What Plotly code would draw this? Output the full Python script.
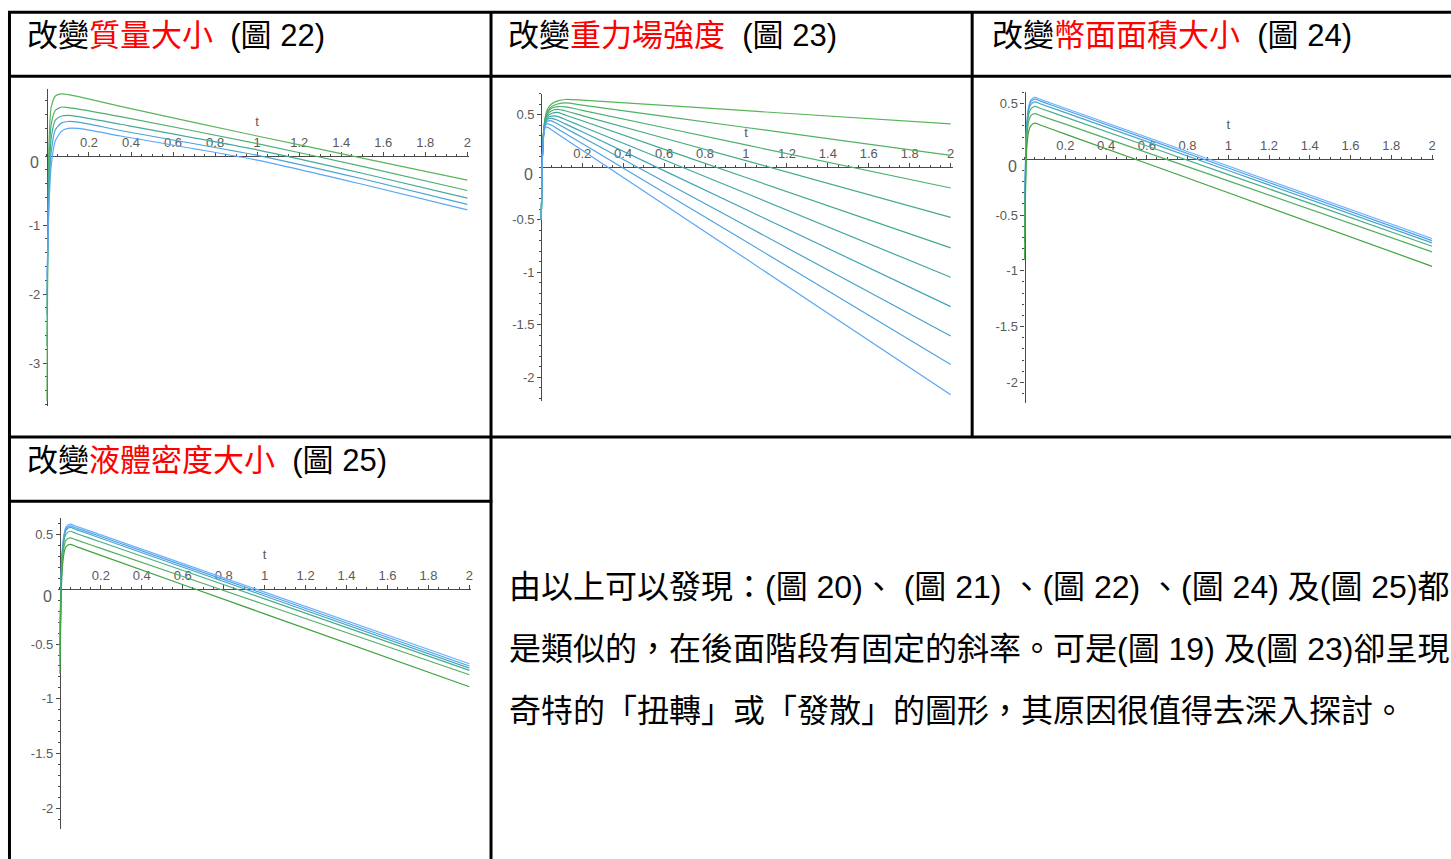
import plotly.graph_objects as go

W, H = 1451, 859

# ---- panel 22: changing the mass -------------------------------------------
T22 = [0, 0.005, 0.01, 0.02, 0.04, 0.07, 0.1, 0.15, 0.35, 1.0, 1.5, 2.0]
V22 = [
    [-3.55, -0.8, 0.2, 0.7, 0.87, 0.90, 0.89, 0.86, 0.72, 0.29, -0.03, -0.35],
    [-2.75, -1.0, -0.1, 0.45, 0.66, 0.71, 0.70, 0.68, 0.57, 0.18, -0.15, -0.50],
    [-2.3, -1.1, -0.35, 0.25, 0.52, 0.58, 0.59, 0.57, 0.46, 0.09, -0.25, -0.61],
    [-2.0, -1.2, -0.55, 0.05, 0.38, 0.48, 0.50, 0.49, 0.37, 0.01, -0.33, -0.70],
    [-1.75, -1.25, -0.7, -0.15, 0.22, 0.36, 0.40, 0.40, 0.29, -0.06, -0.41, -0.78],
]
C22 = ["#5ab55a", "#4cb070", "#45ab98", "#4aa3d6", "#5aa6f5"]

# ---- panel 23: changing the gravity field ----------------------------------
T23 = [0, 0.005, 0.01, 0.02, 0.03, 0.05, 0.08, 0.12, 0.2, 1.0, 2.0]
V23 = [
    [-0.5, 0.05, 0.30, 0.48, 0.55, 0.60, 0.63, 0.643, 0.637, 0.536, 0.41],
    [-0.5, 0.05, 0.30, 0.47, 0.53, 0.575, 0.60, 0.61, 0.59, 0.376, 0.11],
    [-0.5, 0.05, 0.30, 0.46, 0.52, 0.56, 0.575, 0.572, 0.54, 0.21, -0.20],
    [-0.5, 0.05, 0.29, 0.45, 0.50, 0.535, 0.548, 0.533, 0.49, 0.06, -0.48],
    [-0.5, 0.05, 0.29, 0.44, 0.485, 0.51, 0.52, 0.493, 0.44, -0.10, -0.77],
    [-0.5, 0.05, 0.28, 0.43, 0.47, 0.485, 0.482, 0.45, 0.386, -0.25, -1.05],
    [-0.5, 0.05, 0.28, 0.42, 0.455, 0.463, 0.445, 0.408, 0.335, -0.405, -1.33],
    [-0.5, 0.05, 0.27, 0.41, 0.435, 0.44, 0.41, 0.367, 0.283, -0.56, -1.61],
    [-0.5, 0.05, 0.27, 0.40, 0.41, 0.398, 0.363, 0.317, 0.223, -0.71, -1.88],
    [-0.5, 0.05, 0.26, 0.375, 0.38, 0.354, 0.315, 0.263, 0.16, -0.875, -2.17],
]
C23 = ["#5ab55a", "#52b262", "#4bb06e", "#45ad7e", "#40aa90",
       "#3fa7a4", "#42a4b9", "#48a3cc", "#50a4e0", "#5aa6f5"]

# ---- panel 24: changing the cross-section area -----------------------------
T24 = [0, 0.005, 0.01, 0.02, 0.03, 0.05, 0.08, 0.2, 1.0, 2.0]
V24 = [
    [-0.35, 0.05, 0.30, 0.47, 0.53, 0.555, 0.535, 0.458, -0.06, -0.71],
    [-0.45, 0.0, 0.28, 0.46, 0.515, 0.54, 0.52, 0.442, -0.078, -0.73],
    [-0.55, -0.05, 0.26, 0.44, 0.49, 0.515, 0.496, 0.418, -0.10, -0.75],
    [-0.65, -0.1, 0.22, 0.40, 0.45, 0.475, 0.456, 0.378, -0.137, -0.78],
    [-0.75, -0.15, 0.16, 0.34, 0.39, 0.41, 0.39, 0.315, -0.194, -0.83],
    [-0.9, -0.25, 0.08, 0.25, 0.30, 0.325, 0.305, 0.226, -0.30, -0.96],
]
C24 = ["#6ab2ff", "#4f9ff0", "#48a8c0", "#4aae8a", "#50b060", "#3fa33f"]

# ---- panel 25: changing the fluid density ----------------------------------
T25 = [0, 0.005, 0.01, 0.02, 0.03, 0.05, 0.08, 0.2, 1.0, 2.0]
V25 = [
    [-0.35, 0.05, 0.32, 0.50, 0.57, 0.595, 0.575, 0.497, -0.026, -0.68],
    [-0.42, 0.03, 0.30, 0.49, 0.555, 0.58, 0.56, 0.482, -0.043, -0.70],
    [-0.5, 0.0, 0.28, 0.47, 0.54, 0.565, 0.545, 0.466, -0.061, -0.72],
    [-0.58, -0.05, 0.25, 0.44, 0.505, 0.53, 0.51, 0.432, -0.088, -0.74],
    [-0.67, -0.1, 0.20, 0.39, 0.45, 0.47, 0.451, 0.374, -0.139, -0.78],
    [-0.77, -0.15, 0.14, 0.33, 0.39, 0.41, 0.39, 0.31, -0.224, -0.89],
]
C25 = ["#6ab2ff", "#4f9ff0", "#48a8c0", "#4aae8a", "#50b060", "#3fa33f"]

X_TICKS = [0.2, 0.4, 0.6, 0.8, 1.0, 1.2, 1.4, 1.6, 1.8, 2.0]
X_TEXT = ["0.2", "0.4", "0.6", "0.8", "1", "1.2", "1.4", "1.6", "1.8", "2"]
Y_TICKS_22 = [-3, -2, -1]
Y_TEXT_22 = ["-3", "-2", "-1"]
Y_TICKS = [-2, -1.5, -1, -0.5, 0.5]
Y_TEXT = ["-2", "-1.5", "-1", "-0.5", "0.5"]

HEADERS = [
    ("改變", "質量大小", "(圖 22)"),
    ("改變", "重力場強度", "(圖 23)"),
    ("改變", "幣面面積大小", "(圖 24)"),
    ("改變", "液體密度大小", "(圖 25)"),
]
BODY = [
    "由以上可以發現：(圖 20)、 (圖 21) 、(圖 22) 、(圖 24) 及(圖 25)都",
    "是類似的，在後面階段有固定的斜率。可是(圖 19) 及(圖 23)卻呈現",
    "奇特的「扭轉」或「發散」的圖形，其原因很值得去深入探討。",
]

TEXT_FONT = "Liberation Sans, Noto Sans CJK TC, sans-serif"
TICK_FONT = dict(family="Liberation Sans Narrow, Liberation Sans, sans-serif",
                 size=13, color="#5a5a5a")
AXIS_COLOR = "#4a4a4a"

# panel geometry: origin pixel, pixels per unit, visible ranges
PANELS = [
    dict(T=T22, V=V22, C=C22, ox=47, oy=156, sx=210.5, sy=69,
         xr=[-0.01, 2.01], yr=[-3.62, 0.97], yt=Y_TICKS_22, ytt=Y_TEXT_22, ym=0.2),
    dict(T=T23, V=V23, C=C23, ox=542, oy=167, sx=205, sy=105,
         xr=[-0.01, 2.01], yr=[-2.23, 0.70], yt=Y_TICKS, ytt=Y_TEXT, ym=0.1),
    dict(T=T24, V=V24, C=C24, ox=1026, oy=159.3, sx=204, sy=111.5,
         xr=[-0.01, 2.01], yr=[-2.19, 0.60], yt=Y_TICKS, ytt=Y_TEXT, ym=0.1),
    dict(T=T25, V=V25, C=C25, ox=60, oy=589.3, sx=205, sy=109.5,
         xr=[-0.01, 2.01], yr=[-2.19, 0.65], yt=Y_TICKS, ytt=Y_TEXT, ym=0.1),
]

fig = go.Figure()
layout = {}
annotations = []

for i, p in enumerate(PANELS, start=1):
    sfx = "" if i == 1 else str(i)
    x0 = p["ox"] + p["xr"][0] * p["sx"]
    x1 = p["ox"] + p["xr"][1] * p["sx"]
    ytop = p["oy"] - p["yr"][1] * p["sy"]
    ybot = p["oy"] - p["yr"][0] * p["sy"]
    layout["xaxis" + sfx] = dict(
        domain=[x0 / W, x1 / W], range=p["xr"], anchor="free",
        position=1 - p["oy"] / H, side="top", showline=True,
        linecolor=AXIS_COLOR, linewidth=1.2, showgrid=False, zeroline=False,
        tickmode="array", tickvals=X_TICKS, ticktext=X_TEXT,
        ticks="outside", ticklen=4, tickcolor=AXIS_COLOR, tickwidth=1,
        minor=dict(ticks="outside", ticklen=2, tickcolor=AXIS_COLOR,
                   tickmode="linear", tick0=0, dtick=0.05, showgrid=False),
        tickfont=TICK_FONT, layer="below traces",
        title=dict(text="t", font=TICK_FONT, standoff=4),
        fixedrange=True,
    )
    layout["yaxis" + sfx] = dict(
        domain=[1 - ybot / H, 1 - ytop / H], range=p["yr"], anchor="free",
        position=p["ox"] / W, side="left", showline=True,
        linecolor=AXIS_COLOR, linewidth=1.2, showgrid=False, zeroline=False,
        tickmode="array", tickvals=p["yt"], ticktext=p["ytt"],
        ticks="outside", ticklen=4, tickcolor=AXIS_COLOR, tickwidth=1,
        minor=dict(ticks="outside", ticklen=2, tickcolor=AXIS_COLOR,
                   tickmode="linear", tick0=0, dtick=p["ym"], showgrid=False),
        tickfont=TICK_FONT, layer="below traces", fixedrange=True,
    )
    # origin label sits just below-left of the crossing point
    annotations.append(dict(
        xref="x" + sfx, yref="paper", x=0, y=1 - (p["oy"] + 7) / H,
        xanchor="right", yanchor="middle", xshift=-6, showarrow=False,
        text="0", font=dict(family=TICK_FONT["family"], size=16,
                            color=TICK_FONT["color"]),
    ))
    for vals, col in zip(p["V"], p["C"]):
        fig.add_trace(go.Scatter(
            x=p["T"], y=vals, mode="lines",
            line=dict(color=col, width=1.2, shape="spline", smoothing=0.6),
            xaxis="x" + sfx, yaxis="y" + sfx, showlegend=False,
            hoverinfo="skip",
        ))

# table borders (pixel positions converted to paper space)
def hline(y, xa, xb):
    return dict(type="line", xref="paper", yref="paper",
                x0=xa / W, x1=xb / W, y0=1 - y / H, y1=1 - y / H,
                line=dict(color="black", width=3))

def vline(x, ya, yb):
    return dict(type="line", xref="paper", yref="paper",
                x0=x / W, x1=x / W, y0=1 - ya / H, y1=1 - yb / H,
                line=dict(color="black", width=3))

shapes = [
    hline(12.3, 8, W + 5), hline(76.3, 8, W + 5), hline(437, 8, W + 5),
    hline(501.3, 8, 493),
    vline(9.5, 11, H + 5), vline(491.7, 11, H + 5), vline(973.5, 11, 438),
]

header_pos = [(25, 35), (507, 35), (991, 35), (25, 460)]
for (pre, red, tail), (hx, hy) in zip(HEADERS, header_pos):
    annotations.append(dict(
        xref="paper", yref="paper", x=hx / W, y=1 - hy / H,
        xanchor="left", yanchor="middle", showarrow=False,
        text=f"{pre}<span style='color:#ff0000'>{red}</span>\u00a0\u00a0{tail}",
        font=dict(family=TEXT_FONT, size=31, color="black"),
    ))

for line, by in zip(BODY, [587, 649, 711]):
    annotations.append(dict(
        xref="paper", yref="paper", x=508 / W, y=1 - by / H,
        xanchor="left", yanchor="middle", showarrow=False, text=line,
        font=dict(family=TEXT_FONT, size=32, color="black"),
    ))

fig.update_layout(
    width=W, height=H, margin=dict(l=0, r=0, t=0, b=0),
    paper_bgcolor="white", plot_bgcolor="rgba(0,0,0,0)",
    shapes=shapes, annotations=annotations, **layout,
)

fig.write_html("out.html", config={"displayModeBar": False})
